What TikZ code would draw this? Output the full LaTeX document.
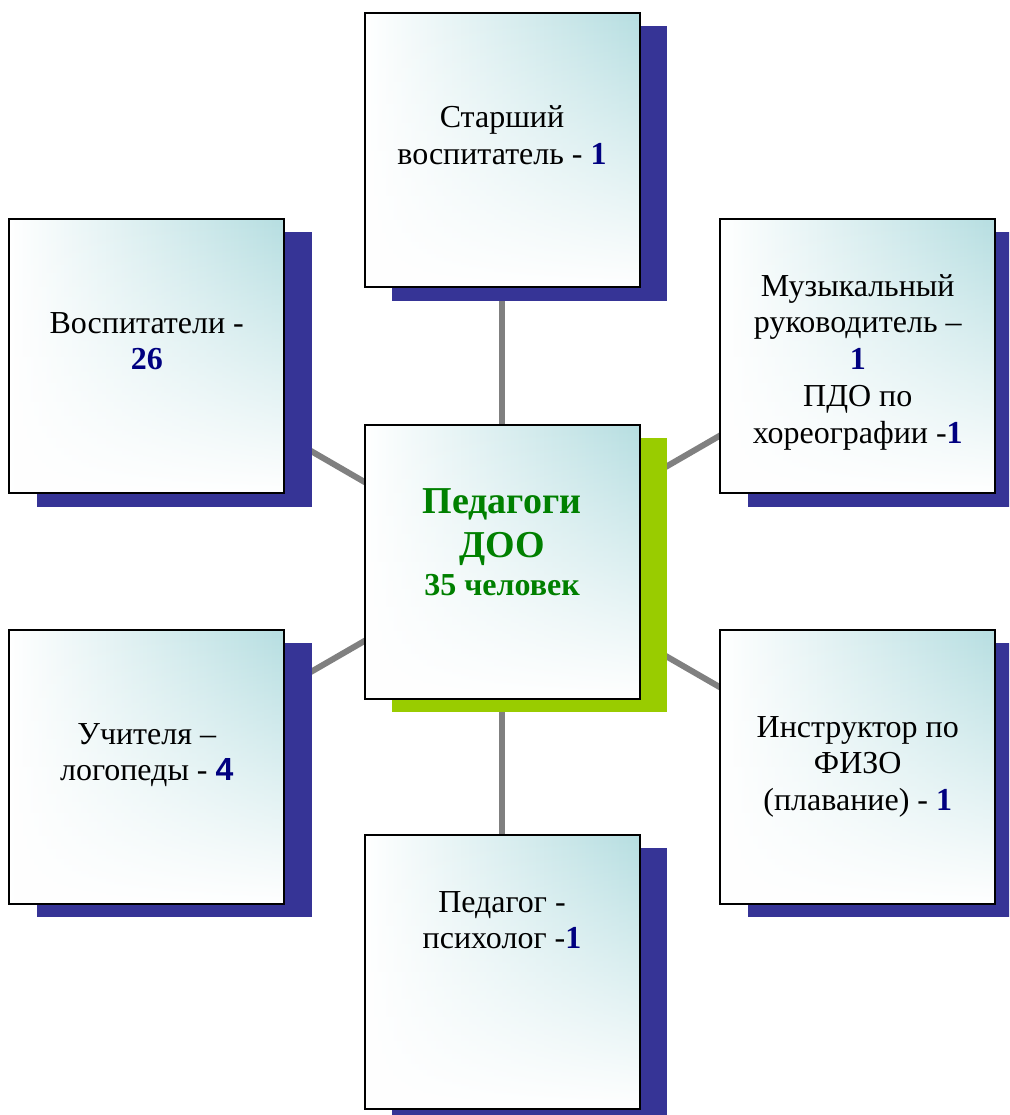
\documentclass[tikz,border=0pt]{standalone}
\usepackage{fontspec}
\setmainfont{Liberation Serif}
\newfontfamily\arialfont{Liberation Sans}
\usetikzlibrary{fadings}
\definecolor{boxteal}{RGB}{182,222,225}
\definecolor{shblue}{RGB}{54,52,150}
\definecolor{shgreen}{RGB}{153,204,0}
\definecolor{numblue}{RGB}{0,0,128}
\definecolor{titlegreen}{RGB}{0,128,0}
\definecolor{conngray}{RGB}{128,128,128}
\tikzfading[name=vfade, top color=transparent!100, middle color=transparent!80, bottom color=transparent!0]
\pgfdeclarelayer{bg}
\pgfsetlayers{bg,main}
\newcommand\bnum[1]{\textbf{\color{numblue}#1}}
\begin{document}
\begin{tikzpicture}[x=1pt, y=-1pt,
  card/.style={draw=black, line width=2pt, minimum width=275pt, minimum height=274pt, inner sep=0pt,
    path picture={
      \fill[left color=white, middle color=boxteal!55!white, right color=boxteal] (path picture bounding box.south west) rectangle (path picture bounding box.north east);
      \fill[white, path fading=vfade] (path picture bounding box.south west) rectangle (path picture bounding box.north east);
    }},
  shadowbox/.style={minimum width=275pt, minimum height=274pt, inner sep=0pt, draw=none},
  conn/.style={draw=conngray, line width=6pt},
  lbltext/.style={anchor=base, inner sep=0pt, font=\fontsize{32}{36.8}\selectfont}
]
\clip (0,0) rectangle (1009,1115);

% shadows
\node[shadowbox, fill=shblue]  (top-sh) at (529.5,163.5) {};
\node[shadowbox, fill=shblue]  (lt-sh)  at (174.25,369.5) {};
\node[shadowbox, fill=shblue]  (rt-sh)  at (885.25,369.5) {};
\node[shadowbox, fill=shgreen] (c-sh)   at (529.5,575) {};
\node[shadowbox, fill=shblue]  (lb-sh)  at (174.25,780.25) {};
\node[shadowbox, fill=shblue]  (rb-sh)  at (885.25,780.25) {};
\node[shadowbox, fill=shblue]  (b-sh)   at (529.5,985) {};

% boxes
\node[card] (top) at (502,150.25) {};
\node[card] (lt)  at (146.75,356) {};
\node[card] (rt)  at (857.75,356) {};
\node[card] (c)   at (502,561.5) {};
\node[card] (lb)  at (146.75,766.75) {};
\node[card] (rb)  at (857.75,766.75) {};
\node[card] (b)   at (502,971.5) {};

% connectors
\begin{pgfonlayer}{bg}
\draw[conn] (c.center) -- (top.center);
\draw[conn] (c.center) -- (b.center);
\draw[conn] (c.center) -- (lt.center);
\draw[conn] (c.center) -- (rt.center);
\draw[conn] (c.center) -- (lb.center);
\draw[conn] (c.center) -- (rb.center);
\end{pgfonlayer}

% texts
\node[lbltext] (top-t) at (502,128) {\begin{tabular}[t]{@{}c@{}}Старший\\воспитатель - \bnum{1}\end{tabular}};
\node[lbltext] (lt-t) at (146.75,333) {\begin{tabular}[t]{@{}c@{}}Воспитатели -\\\bnum{26}\end{tabular}};
\node[lbltext] (rt-t) at (857.75,296) {\begin{tabular}[t]{@{}c@{}}Музыкальный\\руководитель –\\\bnum{1}\\ПДО по\\хореографии -\bnum{1}\end{tabular}};
\node[lbltext] (lb-t) at (146.75,744) {\begin{tabular}[t]{@{}c@{}}Учителя –\\логопеды - {\arialfont\bnum{4}}\end{tabular}};
\node[lbltext] (rb-t) at (857.75,737) {\begin{tabular}[t]{@{}c@{}}Инструктор по\\ФИЗО\\(плавание) - \bnum{1}\end{tabular}};
\node[lbltext] (b-t) at (502,912) {\begin{tabular}[t]{@{}c@{}}Педагог -\\психолог -\bnum{1}\end{tabular}};
\node[lbltext, font=\fontsize{38}{44}\selectfont\bfseries\color{titlegreen}] (c-t) at (502,513)
  {\begin{tabular}[t]{@{}c@{}}Педагоги\\ДОО\\[-6pt]\fontsize{32}{36.8}\selectfont 35 человек\end{tabular}};
\end{tikzpicture}
\end{document}
